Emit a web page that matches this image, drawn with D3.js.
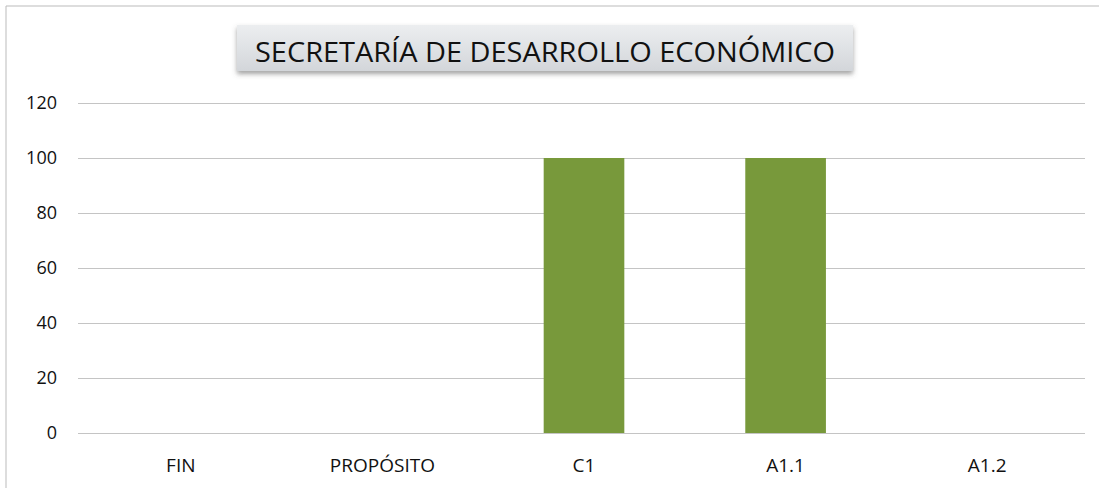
<!DOCTYPE html>
<html>
<head>
<meta charset="utf-8">
<script src="https://cdn.jsdelivr.net/npm/d3@7"></script>
<style>
body { margin: 0; background: #fff; }
text { font-family: "Open Sans", "Noto Sans", sans-serif; fill: #111; }
</style>
</head>
<body>
<script>
var w = 1099;
var h = 488;

var categories = ["FIN", "PROPÓSITO", "C1", "A1.1", "A1.2"];
var values = [0, 0, 100, 100, 0];
var yTicks = [0, 20, 40, 60, 80, 100, 120];
var title = "SECRETARÍA DE DESARROLLO ECONÓMICO";

var svg = d3.select("body")
	.append("svg")
	.attr("width", w)
	.attr("height", h);

var defs = svg.append("defs");
var grad = defs.append("linearGradient")
	.attr("id", "titleGrad")
	.attr("x1", 0).attr("y1", 0).attr("x2", 0).attr("y2", 1);
grad.append("stop").attr("offset", "0%").attr("stop-color", "#eceef0");
grad.append("stop").attr("offset", "100%").attr("stop-color", "#d3d6da");
var shadow = defs.append("filter").attr("id", "shadow")
	.attr("x", "-5%").attr("y", "-20%").attr("width", "110%").attr("height", "160%");
shadow.append("feDropShadow")
	.attr("dx", 0).attr("dy", 3).attr("stdDeviation", 2.5)
	.attr("flood-color", "#555").attr("flood-opacity", 0.55);

// chart frame
svg.append("path")
	.attr("d", "M6,488 V6 H1099")
	.attr("fill", "none")
	.attr("stroke", "#bbb")
	.attr("stroke-width", 1);

var margin = {top: 103, bottom: 55};
var gridLeft = 78, gridRight = 1085;

var x = d3.scaleBand()
	.domain(categories)
	.range([80, 1088])
	.paddingInner(0.6)
	.paddingOuter(0.3);

var y = d3.scaleLinear()
	.domain([0, 120])
	.range([h - margin.bottom, margin.top]);

// gridlines
svg.append("g")
	.selectAll("line")
	.data(yTicks)
	.enter()
	.append("line")
	.attr("x1", gridLeft)
	.attr("x2", gridRight)
	.attr("y1", function(d){ return y(d) + 0.5; })
	.attr("y2", function(d){ return y(d) + 0.5; })
	.attr("stroke", "#c4c4c4")
	.attr("stroke-width", 1);

// y labels
svg.append("g")
	.selectAll("text")
	.data(yTicks)
	.enter()
	.append("text")
	.attr("x", 57)
	.attr("y", function(d){ return y(d); })
	.attr("dy", "0.36em")
	.attr("text-anchor", "end")
	.attr("font-size", 18)
	.text(function(d){ return d; });

// bars
svg.append("g")
	.selectAll("rect")
	.data(values)
	.enter()
	.append("rect")
	.attr("x", function(d, i){ return x(categories[i]); })
	.attr("y", function(d){ return y(d); })
	.attr("width", x.bandwidth())
	.attr("height", function(d){ return y(0) - y(d); })
	.attr("fill", "#78993b");

// x labels
svg.append("g")
	.selectAll("text")
	.data(categories)
	.enter()
	.append("text")
	.attr("x", function(d){ return x(d) + x.bandwidth() / 2; })
	.attr("y", 472)
	.attr("text-anchor", "middle")
	.attr("font-size", 19)
	.text(function(d){ return d; });

// title box
svg.append("rect")
	.attr("x", 237)
	.attr("y", 25)
	.attr("width", 616)
	.attr("height", 46)
	.attr("fill", "url(#titleGrad)")
	.attr("filter", "url(#shadow)");

svg.append("text")
	.attr("x", 545)
	.attr("y", 62)
	.attr("text-anchor", "middle")
	.attr("font-size", 27)
	.attr("textLength", 580)
	.attr("lengthAdjust", "spacingAndGlyphs")
	.text(title);
</script>
</body>
</html>
